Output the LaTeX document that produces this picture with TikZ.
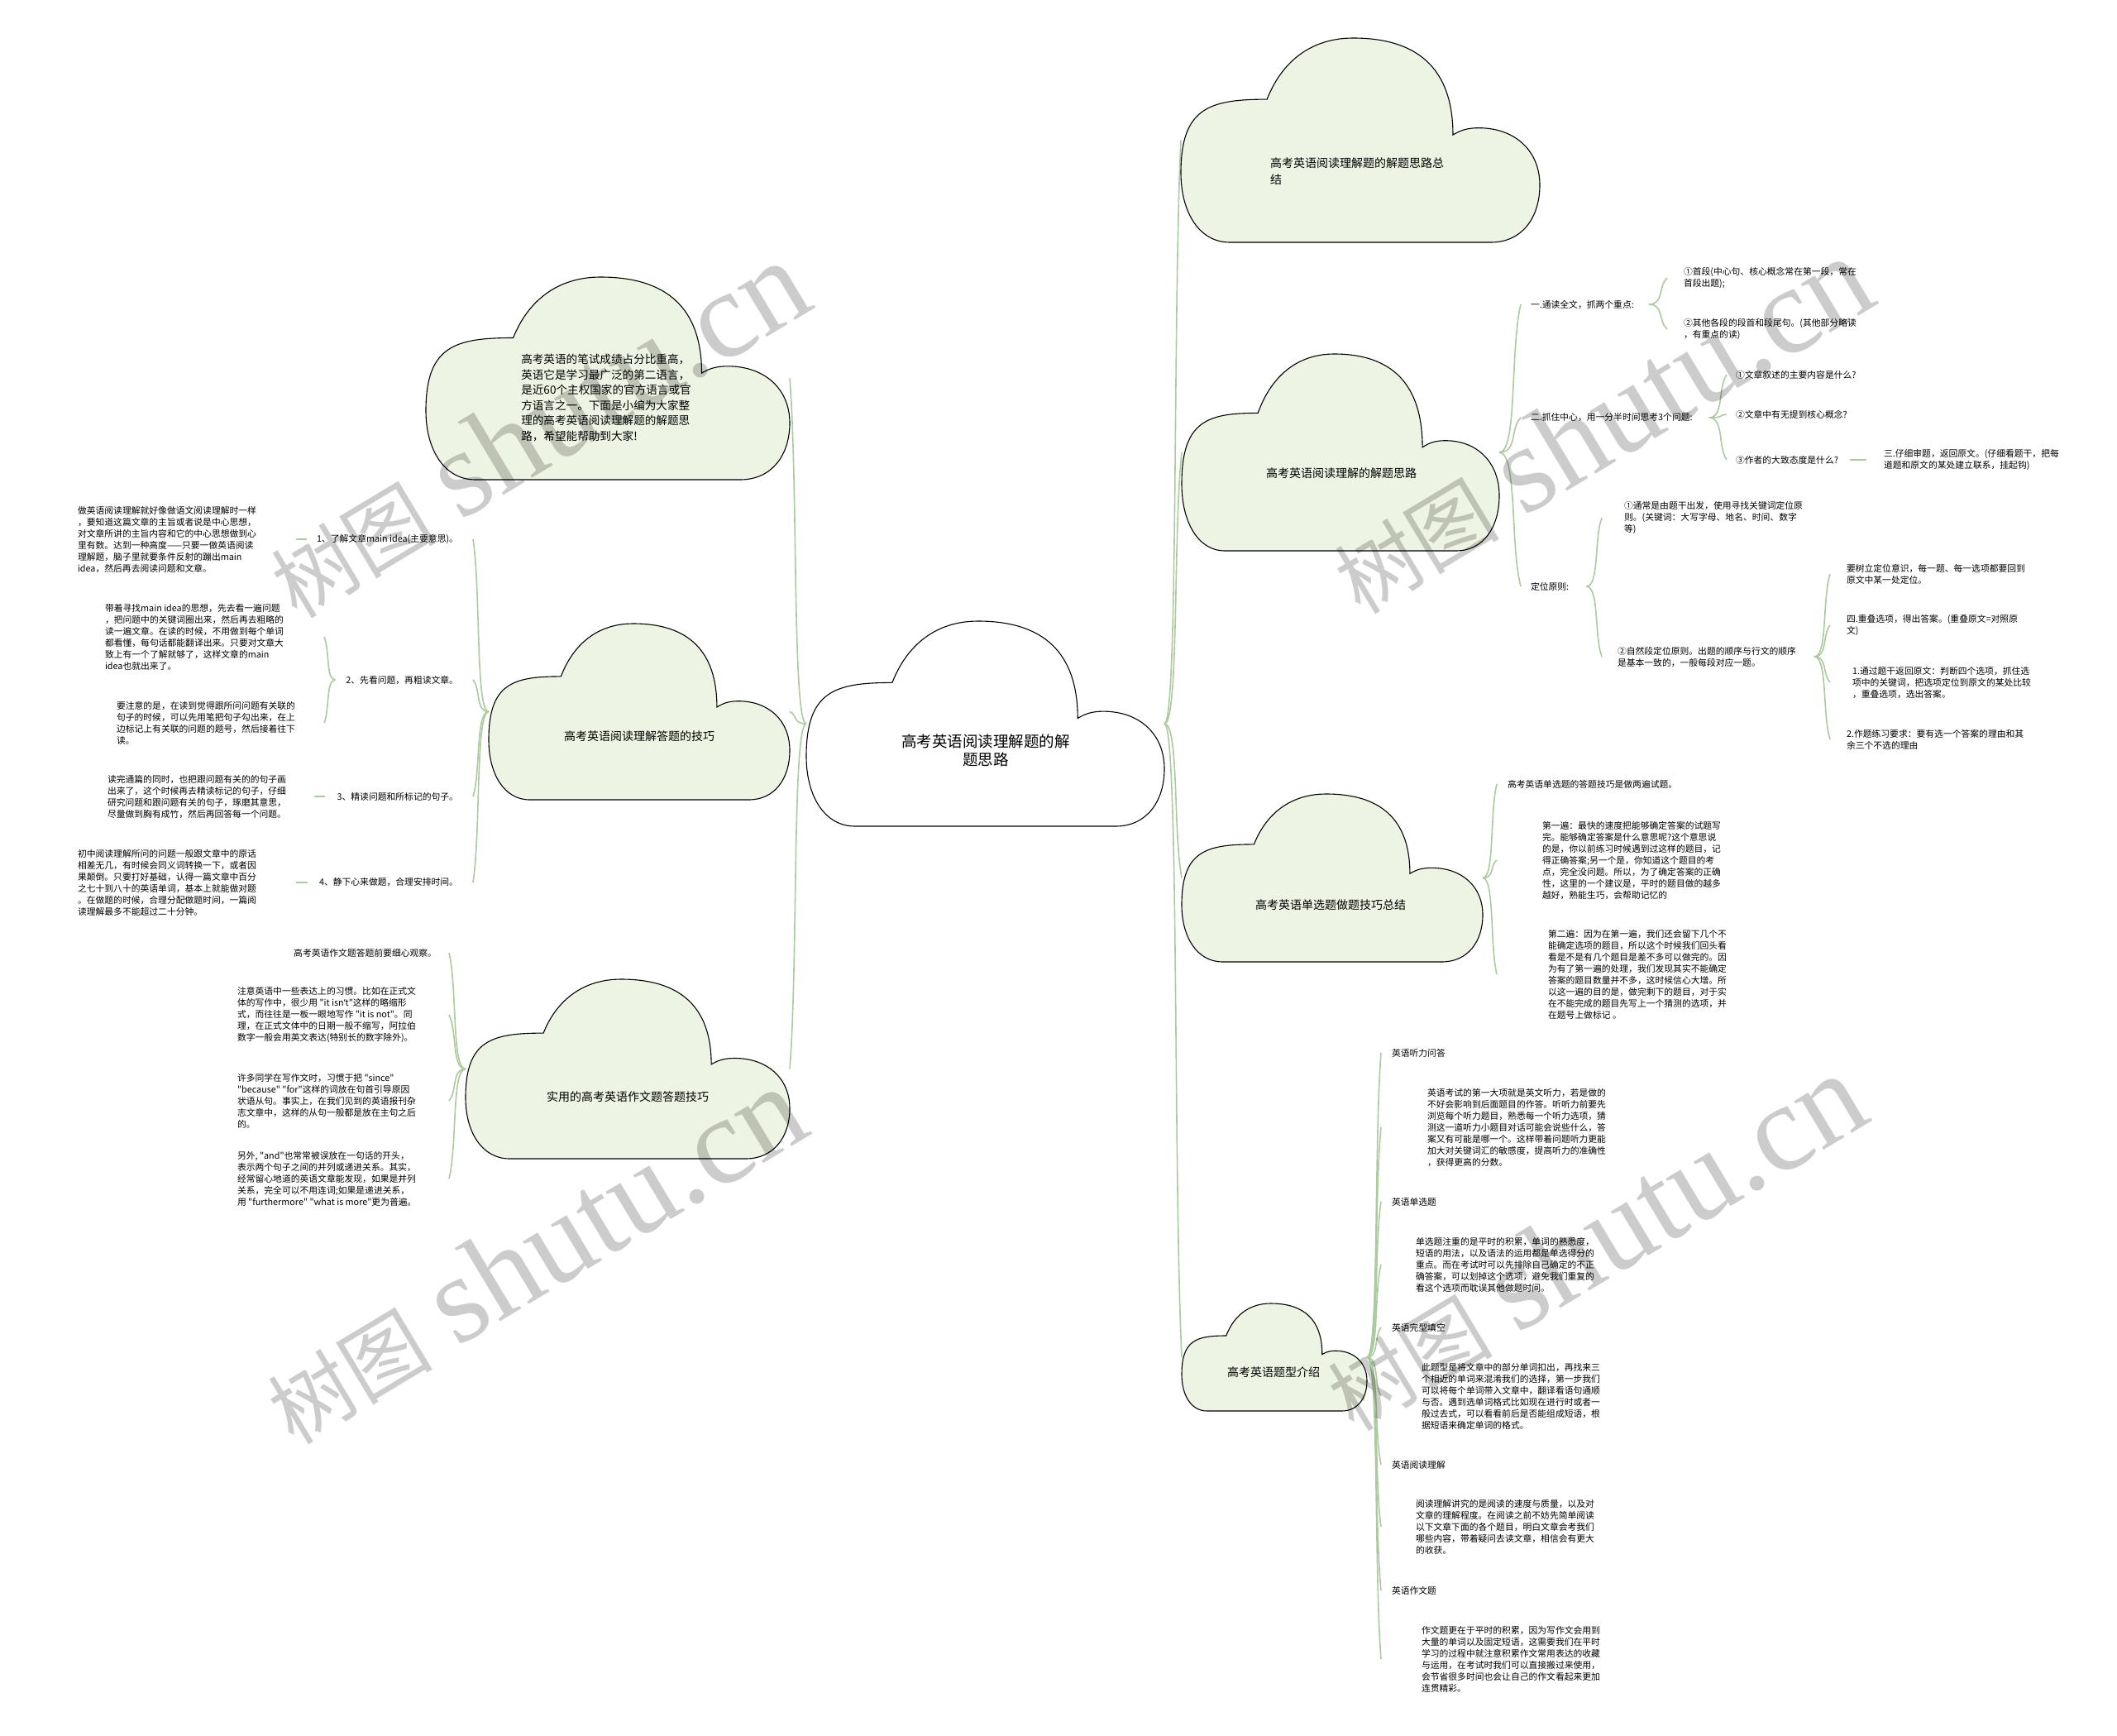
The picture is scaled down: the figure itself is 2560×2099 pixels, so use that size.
\documentclass[tikz,border=0pt]{standalone}
\usepackage{fontspec}
\setmainfont{Noto Sans CJK SC}[Ligatures=TeXOff]
\newfontfamily\wmserif{Liberation Serif}
\newfontfamily\latf{Noto Sans}
\usetikzlibrary{calc}
\definecolor{cloudfill}{RGB}{238,244,228}
\definecolor{linkc}{RGB}{172,202,160}
\tikzset{
 cbox/.style={inner sep=0pt, outer sep=0pt},
 cloudline/.style={draw=black, line width=1.1pt},
 conn/.style={draw=linkc, line width=1.6pt},
 leaf/.style={inner sep=0pt, outer sep=0pt, align=left, anchor=west, font=\fontsize{10.8}{14}\selectfont},
 leafr/.style={leaf, anchor=east, align=right},
 ctitle/.style={inner sep=0pt, align=center, font=\fontsize{14}{20}\selectfont},
 wm/.style={inner sep=0pt, text=black, text opacity=0.2, rotate=31},
}
\newcommand\cloudnode[5]{\node[cbox, minimum width=#4, minimum height=#5] (#1) at ({#2+#4/2},{#3+#5/2}) {};}
\newcommand\cloudshape[5]{%
 \begin{scope}[shift={(#1,#2)}, x=#3pt, y=-#4pt]
 \draw[cloudline, fill=#5] (0.136,1) .. controls (0.05,1) and (0,0.85) .. (0,0.66)
 .. controls (0,0.34) and (0.08,0.30) .. (0.24,0.30)
 .. controls (0.28,0.12) and (0.36,0) .. (0.48,0)
 .. controls (0.66,0) and (0.758,0.15) .. (0.758,0.474)
 .. controls (0.78,0.45) and (0.80,0.44) .. (0.83,0.44)
 .. controls (0.93,0.44) and (1,0.55) .. (1,0.72)
 .. controls (1,0.88) and (0.95,1) .. (0.864,1) -- cycle;
 \end{scope}}
\newcommand\conn[2]{\draw[conn] let \p1=#1, \p2=#2 in (\p1) .. controls ({\x1+0.85*(\x2-\x1)},{\y1}) and ({\x1+0.5*(\x2-\x1)},{\y2+0.3*(\y1-\y2)}) .. (\p2);}
\newcommand\wmtext{{\fontsize{100}{100}\selectfont 树图}\hspace{30pt}{\wmserif\fontsize{150}{150}\selectfont shutu.cn}}

\begin{document}
\begin{tikzpicture}[x=1pt,y=-1pt]
\useasboundingbox (0,0) rectangle (2560,2099);
\fill[white] (0,0) rectangle (2560,2099);

% cloud nodes (bounding boxes)
\cloudnode{cc}{975}{751}{433}{248}
\cloudnode{l1}{515}{335}{440}{245}
\cloudnode{l2}{591}{754}{364}{213}
\cloudnode{l3}{563}{1184}{392}{217}
\cloudnode{r1}{1428}{46}{434}{247}
\cloudnode{r2}{1429}{428}{384}{238}
\cloudnode{r3}{1429}{960}{364}{203}
\cloudnode{r4}{1429}{1576}{224}{130}

% ---------- left: L2 children
\node[leafr] (l2a) at (554,652) {1、了解文章main idea(主要意思)。};
\node[leaf] (l2a1) at (94,652) {做英语阅读理解就好像做语文阅读理解时一样\\，要知道这篇文章的主旨或者说是中心思想，\\对文章所讲的主旨内容和它的中心思想做到心\\里有数。达到一种高度——只要一做英语阅读\\理解题，脑子里就要条件反射的蹦出main\\idea，然后再去阅读问题和文章。};
\node[leafr] (l2b) at (554,822) {2、先看问题，再粗读文章。};
\node[leaf] (l2b1) at (127,770) {带着寻找main idea的思想，先去看一遍问题\\，把问题中的关键词圈出来，然后再去粗略的\\读一遍文章。在读的时候，不用做到每个单词\\都看懂，每句话都能翻译出来。只要对文章大\\致上有一个了解就够了，这样文章的main\\idea也就出来了。};
\node[leaf] (l2b2) at (141,874) {要注意的是，在读到觉得跟所问问题有关联的\\句子的时候，可以先用笔把句子勾出来，在上\\边标记上有关联的问题的题号，然后接着往下\\读。};
\node[leafr] (l2c) at (554,963) {3、精读问题和所标记的句子。};
\node[leaf] (l2c1) at (130,963) {读完通篇的同时，也把跟问题有关的的句子画\\出来了，这个时候再去精读标记的句子，仔细\\研究问题和跟问题有关的句子，琢磨其意思，\\尽量做到胸有成竹，然后再回答每一个问题。};
\node[leafr] (l2d) at (554,1067) {4、静下心来做题，合理安排时间。};
\node[leaf] (l2d1) at (94,1067) {初中阅读理解所问的问题一般跟文章中的原话\\相差无几，有时候会同义词转换一下，或者因\\果颠倒。只要打好基础，认得一篇文章中百分\\之七十到八十的英语单词，基本上就能做对题\\。在做题的时候，合理分配做题时间，一篇阅\\读理解最多不能超过二十分钟。};

% ---------- left: L3 children
\node[leafr] (l3a) at (528,1152) {高考英语作文题答题前要细心观察。};
\node[leaf] (l3b) at (287,1227) {注意英语中一些表达上的习惯。比如在正式文\\体的写作中，很少用 "it isn{\latf ’}t"这样的略缩形\\式，而往往是一板一眼地写作 "it is not"。同\\理，在正式文体中的日期一般不缩写，阿拉伯\\数字一般会用英文表达(特别长的数字除外)。};
\node[leaf] (l3c) at (287,1331) {许多同学在写作文时，习惯于把 "since"\\"because" "for"这样的词放在句首引导原因\\状语从句。事实上，在我们见到的英语报刊杂\\志文章中，这样的从句一般都是放在主句之后\\的。};
\node[leaf] (l3d) at (287,1425) {另外, "and"也常常被误放在一句话的开头，\\表示两个句子之间的并列或递进关系。其实，\\经常留心地道的英语文章能发现，如果是并列\\关系，完全可以不用连词;如果是递进关系，\\用 "furthermore" "what is more"更为普遍。};

% ---------- right: R2 children
\node[leaf] (r2a) at (1851,368) {一.通读全文，抓两个重点:};
\node[leaf] (r2a1) at (2036,336) {①首段(中心句、核心概念常在第一段，常在\\首段出题);};
\node[leaf] (r2a2) at (2036,398) {②其他各段的段首和段尾句。(其他部分略读\\，有重点的读)};
\node[leaf] (r2b) at (1851,505) {二.抓住中心，用一分半时间思考3个问题:};
\node[leaf] (r2b1) at (2099,453) {①文章叙述的主要内容是什么?};
\node[leaf] (r2b2) at (2099,501) {②文章中有无提到核心概念?};
\node[leaf] (r2b3) at (2099,556) {③作者的大致态度是什么?};
\node[leaf] (r2b3a) at (2278,556) {三.仔细审题，返回原文。(仔细看题干，把每\\道题和原文的某处建立联系，挂起钩)};
\node[leaf] (r2c) at (1851,709) {定位原则:};
\node[leaf] (r2c1) at (1964,626) {①通常是由题干出发，使用寻找关键词定位原\\则。(关键词：大写字母、地名、时间、数字\\等)};
\node[leaf] (r2c2) at (1956,794) {②自然段定位原则。出题的顺序与行文的顺序\\是基本一致的，一般每段对应一题。};
\node[leaf] (r2c2a) at (2233,694) {要树立定位意识，每一题、每一选项都要回到\\原文中某一处定位。};
\node[leaf] (r2c2b) at (2233,756) {四.重叠选项，得出答案。(重叠原文=对照原\\文)};
\node[leaf] (r2c2c) at (2240,825) {1.通过题干返回原文：判断四个选项，抓住选\\项中的关键词，把选项定位到原文的某处比较\\，重叠选项，选出答案。};
\node[leaf] (r2c2d) at (2233,894) {2.作题练习要求：要有选一个答案的理由和其\\余三个不选的理由};

% ---------- right: R3 children
\node[leaf] (r3a) at (1823,948) {高考英语单选题的答题技巧是做两遍试题。};
\node[leaf] (r3b) at (1865,1040) {第一遍：最快的速度把能够确定答案的试题写\\完。能够确定答案是什么意思呢?这个意思说\\的是，你以前练习时候遇到过这样的题目，记\\得正确答案;另一个是，你知道这个题目的考\\点，完全没问题。所以，为了确定答案的正确\\性，这里的一个建议是，平时的题目做的越多\\越好，熟能生巧，会帮助记忆的};
\node[leaf] (r3c) at (1872,1178) {第二遍：因为在第一遍，我们还会留下几个不\\能确定选项的题目，所以这个时候我们回头看\\看是不是有几个题目是差不多可以做完的。因\\为有了第一遍的处理，我们发现其实不能确定\\答案的题目数量并不多，这时候信心大增。所\\以这一遍的目的是，做完剩下的题目，对于实\\在不能完成的题目先写上一个猜测的选项，并\\在题号上做标记 。};

% ---------- right: R4 children
\node[leaf] (r4a) at (1683,1273) {英语听力问答};
\node[leaf] (r4a1) at (1726,1363) {英语考试的第一大项就是英文听力，若是做的\\不好会影响到后面题目的作答。听听力前要先\\浏览每个听力题目，熟悉每一个听力选项，猜\\测这一道听力小题目对话可能会说些什么，答\\案又有可能是哪一个。这样带着问题听力更能\\加大对关键词汇的敏感度，提高听力的准确性\\，获得更高的分数。};
\node[leaf] (r4b) at (1683,1453) {英语单选题};
\node[leaf] (r4b1) at (1712,1529) {单选题注重的是平时的积累，单词的熟悉度，\\短语的用法，以及语法的运用都是单选得分的\\重点。而在考试时可以先排除自己确定的不正\\确答案，可以划掉这个选项，避免我们重复的\\看这个选项而耽误其他做题时间。};
\node[leaf] (r4c) at (1683,1605) {英语完型填空};
\node[leaf] (r4c1) at (1719,1688) {此题型是将文章中的部分单词扣出，再找来三\\个相近的单词来混淆我们的选择，第一步我们\\可以将每个单词带入文章中，翻译看语句通顺\\与否。遇到选单词格式比如现在进行时或者一\\般过去式，可以看看前后是否能组成短语，根\\据短语来确定单词的格式。};
\node[leaf] (r4d) at (1683,1771) {英语阅读理解};
\node[leaf] (r4d1) at (1712,1846) {阅读理解讲究的是阅读的速度与质量，以及对\\文章的理解程度。在阅读之前不妨先简单阅读\\以下文章下面的各个题目，明白文章会考我们\\哪些内容，带着疑问去读文章，相信会有更大\\的收获。};
\node[leaf] (r4e) at (1683,1923) {英语作文题};
\node[leaf] (r4e1) at (1719,2006) {作文题更在于平时的积累，因为写作文会用到\\大量的单词以及固定短语，这需要我们在平时\\学习的过程中就注意积累作文常用表达的收藏\\与运用，在考试时我们可以直接搬过来使用，\\会节省很多时间也会让自己的作文看起来更加\\连贯精彩。};

% ---------- connectors
\conn{(cc.west)}{(l1.east)}
\conn{(cc.west)}{(l2.east)}
\conn{(cc.west)}{(l3.east)}
\conn{(cc.east)}{(r1.west)}
\conn{(cc.east)}{(r2.west)}
\conn{(cc.east)}{(r3.west)}
\conn{(cc.east)}{(r4.west)}

\conn{(l2.west)}{([xshift=18]l2a.east)}
\conn{(l2.west)}{([xshift=18]l2b.east)}
\conn{(l2.west)}{([xshift=18]l2c.east)}
\conn{(l2.west)}{([xshift=18]l2d.east)}
\conn{([xshift=-12]l2a.west)}{([xshift=264]l2a1.west)}
\conn{([xshift=-13]l2b.west)}{([xshift=265]l2b1.west)}
\conn{([xshift=-13]l2b.west)}{([xshift=251]l2b2.west)}
\conn{([xshift=-15]l2c.west)}{([xshift=250]l2c1.west)}
\conn{([xshift=-14]l2d.west)}{([xshift=264]l2d1.west)}

\conn{(l3.west)}{([xshift=15]l3a.east)}
\conn{(l3.west)}{([xshift=256]l3b.west)}
\conn{(l3.west)}{([xshift=256]l3c.west)}
\conn{(l3.west)}{([xshift=256]l3d.west)}

\conn{(r2.east)}{([xshift=-12]r2a.west)}
\conn{(r2.east)}{([xshift=-12]r2b.west)}
\conn{(r2.east)}{([xshift=-12]r2c.west)}
\conn{([xshift=18]r2a.east)}{([xshift=-20]r2a1.west)}
\conn{([xshift=18]r2a.east)}{([xshift=-20]r2a2.west)}
\conn{([xshift=20]r2b.east)}{([xshift=-11]r2b1.west)}
\conn{([xshift=20]r2b.east)}{([xshift=-11]r2b2.west)}
\conn{([xshift=20]r2b.east)}{([xshift=-11]r2b3.west)}
\conn{([xshift=14]r2b3.east)}{([xshift=-21]r2b3a.west)}
\conn{([xshift=21]r2c.east)}{([xshift=-27]r2c1.west)}
\conn{([xshift=21]r2c.east)}{([xshift=-19]r2c2.west)}
\conn{([xshift=22]r2c2.east)}{([xshift=-20]r2c2a.west)}
\conn{([xshift=22]r2c2.east)}{([xshift=-20]r2c2b.west)}
\conn{([xshift=22]r2c2.east)}{([xshift=-27]r2c2c.west)}
\conn{([xshift=22]r2c2.east)}{([xshift=-20]r2c2d.west)}

\conn{(r3.east)}{([xshift=-13]r3a.west)}
\conn{(r3.east)}{([xshift=-55]r3b.west)}
\conn{(r3.east)}{([xshift=-62]r3c.west)}

\conn{(r4.east)}{([xshift=-13]r4a.west)}
\conn{(r4.east)}{([xshift=-56]r4a1.west)}
\conn{(r4.east)}{([xshift=-13]r4b.west)}
\conn{(r4.east)}{([xshift=-42]r4b1.west)}
\conn{(r4.east)}{([xshift=-13]r4c.west)}
\conn{(r4.east)}{([xshift=-49]r4c1.west)}
\conn{(r4.east)}{([xshift=-13]r4d.west)}
\conn{(r4.east)}{([xshift=-42]r4d1.west)}
\conn{(r4.east)}{([xshift=-13]r4e.west)}
\conn{(r4.east)}{([xshift=-49]r4e1.west)}

% ---------- cloud shapes
\cloudshape{975}{751}{433}{248}{white}
\cloudshape{515}{335}{440}{245}{cloudfill}
\cloudshape{591}{754}{364}{213}{cloudfill}
\cloudshape{563}{1184}{392}{217}{cloudfill}
\cloudshape{1428}{46}{434}{247}{cloudfill}
\cloudshape{1429}{428}{384}{238}{cloudfill}
\cloudshape{1429}{960}{364}{203}{cloudfill}
\cloudshape{1429}{1576}{224}{130}{cloudfill}

% ---------- cloud texts
\node[ctitle, font=\fontsize{18.5}{22}\selectfont] (tcc) at (1192,907) {高考英语阅读理解题的解\\题思路};
\node[ctitle, align=left, font=\fontsize{13.6}{18.6}\selectfont] (tl1) at (733,481) {高考英语的笔试成绩占分比重高，\\英语它是学习最广泛的第二语言，\\是近60个主权国家的官方语言或官\\方语言之一。下面是小编为大家整\\理的高考英语阅读理解题的解题思\\路，希望能帮助到大家!};
\node[ctitle] (tl2) at (773,890) {高考英语阅读理解答题的技巧};
\node[ctitle] (tl3) at (759,1326) {实用的高考英语作文题答题技巧};
\node[ctitle, align=left] (tr1) at (1641,207) {高考英语阅读理解题的解题思路总\\结};
\node[ctitle] (tr2) at (1622,572) {高考英语阅读理解的解题思路};
\node[ctitle] (tr3) at (1609,1094) {高考英语单选题做题技巧总结};
\node[ctitle] (tr4) at (1540,1659) {高考英语题型介绍};

% ---------- watermarks
\node[wm] (wm1) at (649,519) {\wmtext};
\node[wm] (wm2) at (1935,514) {\wmtext};
\node[wm] (wm3) at (645,1518) {\wmtext};
\node[wm] (wm4) at (1927,1502) {\wmtext};
\end{tikzpicture}
\end{document}
